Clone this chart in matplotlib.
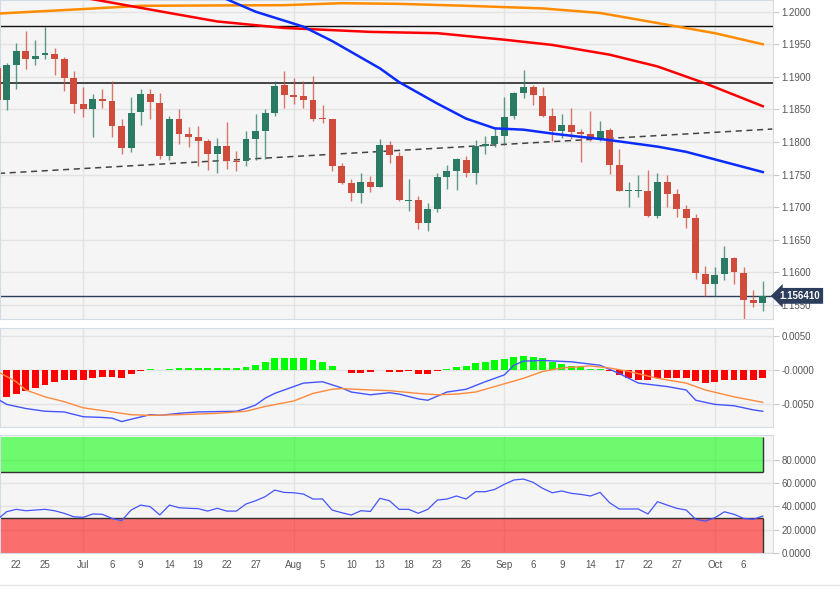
import matplotlib
matplotlib.use("Agg")
import matplotlib.pyplot as plt
import numpy as np

plt.rcParams["font.family"] = ["Liberation Sans", "DejaVu Sans"]

# daily EUR/USD candles, index -1 is the one cut off by the left edge
OPEN = [1.1914, 1.1865, 1.1918, 1.1940, 1.1927, 1.1933, 1.1935, 1.1927, 1.1898, 1.1858,
        1.1851, 1.1866, 1.1863, 1.1824, 1.1791, 1.1846, 1.1874, 1.1860, 1.1778, 1.1836,
        1.1813, 1.1807, 1.1802, 1.1781, 1.1794, 1.1771, 1.1771, 1.1804, 1.1817, 1.1845,
        1.1888, 1.1872, 1.1870, 1.1865, 1.1837, 1.1835, 1.1763, 1.1737, 1.1722, 1.1739,
        1.1731, 1.1796, 1.1779, 1.1710, 1.1711, 1.1676, 1.1698, 1.1746, 1.1756, 1.1773,
        1.1753, 1.1794, 1.1797, 1.1809, 1.1840, 1.1876, 1.1885, 1.1871, 1.1840, 1.1817,
        1.1826, 1.1816, 1.1812, 1.1804, 1.1819, 1.1765, 1.1725, 1.1725, 1.1725, 1.1687,
        1.1738, 1.1720, 1.1697, 1.1684, 1.1598, 1.1583, 1.1598, 1.1622, 1.1599, 1.1557,
        1.1553]
HIGH = [1.1925, 1.1922, 1.1952, 1.1971, 1.1957, 1.1976, 1.1944, 1.1931, 1.1909, 1.1885,
        1.1874, 1.1881, 1.1894, 1.1836, 1.1869, 1.1881, 1.1881, 1.1876, 1.1840, 1.1850,
        1.1823, 1.1824, 1.1804, 1.1806, 1.1831, 1.1787, 1.1817, 1.1843, 1.1850, 1.1894,
        1.1909, 1.1898, 1.1894, 1.1901, 1.1857, 1.1836, 1.1768, 1.1744, 1.1753, 1.1748,
        1.1805, 1.1801, 1.1785, 1.1743, 1.1717, 1.1706, 1.1752, 1.1765, 1.1775, 1.1779,
        1.1803, 1.1809, 1.1821, 1.1869, 1.1877, 1.1911, 1.1888, 1.1885, 1.1852, 1.1843,
        1.1852, 1.1820, 1.1847, 1.1833, 1.1821, 1.1789, 1.1738, 1.1749, 1.1757, 1.1752,
        1.1749, 1.1728, 1.1703, 1.1690, 1.1610, 1.1609, 1.1641, 1.1623, 1.1608, 1.1573,
        1.1587]
LOW = [1.1858, 1.1849, 1.1881, 1.1912, 1.1918, 1.1927, 1.1903, 1.1878, 1.1845, 1.1838,
       1.1807, 1.1852, 1.1807, 1.1782, 1.1784, 1.1826, 1.1836, 1.1774, 1.1773, 1.1797,
       1.1793, 1.1763, 1.1757, 1.1753, 1.1758, 1.1755, 1.1763, 1.1773, 1.1774, 1.1840,
       1.1852, 1.1858, 1.1853, 1.1833, 1.1829, 1.1756, 1.1736, 1.1710, 1.1707, 1.1724,
       1.1731, 1.1768, 1.1709, 1.1695, 1.1666, 1.1664, 1.1693, 1.1728, 1.1727, 1.1747,
       1.1736, 1.1781, 1.1792, 1.1796, 1.1836, 1.1867, 1.1857, 1.1839, 1.1801, 1.1806,
       1.1804, 1.1770, 1.1801, 1.1801, 1.1751, 1.1725, 1.1700, 1.1715, 1.1685, 1.1683,
       1.1701, 1.1685, 1.1668, 1.1590, 1.1564, 1.1564, 1.1588, 1.1582, 1.1528, 1.1547,
       1.1541]
CLOSE = [1.1865, 1.1918, 1.1940, 1.1927, 1.1932, 1.1936, 1.1927, 1.1898, 1.1858, 1.1851,
         1.1866, 1.1863, 1.1824, 1.1791, 1.1844, 1.1874, 1.1861, 1.1778, 1.1836, 1.1813,
         1.1807, 1.1802, 1.1781, 1.1794, 1.1771, 1.1769, 1.1804, 1.1817, 1.1844, 1.1886,
         1.1872, 1.1869, 1.1865, 1.1836, 1.1835, 1.1763, 1.1737, 1.1722, 1.1739, 1.1731,
         1.1796, 1.1780, 1.1711, 1.1711, 1.1676, 1.1697, 1.1746, 1.1755, 1.1774, 1.1753,
         1.1794, 1.1797, 1.1809, 1.1839, 1.1876, 1.1884, 1.1872, 1.1840, 1.1817, 1.1826,
         1.1815, 1.1812, 1.1804, 1.1817, 1.1765, 1.1725, 1.1726, 1.1726, 1.1687, 1.1738,
         1.1721, 1.1697, 1.1684, 1.1599, 1.1582, 1.1596, 1.1622, 1.1600, 1.1558, 1.1553,
         1.15641]

LAST_PRICE = 1.15641

# moving averages, read at candle indices
SMA50_IDX = [20, 23, 26, 31, 34, 39, 41, 45, 48, 51, 54, 57, 63, 68, 71, 79]
SMA50 = [1.2039, 1.2019, 1.2000, 1.1977, 1.1955, 1.1913, 1.1892, 1.1859, 1.1836, 1.1821,
         1.1819, 1.1813, 1.1803, 1.1793, 1.1785, 1.1754]
SMA100_IDX = [5, 9, 17, 22, 29, 38, 45, 52, 57, 63, 68, 73, 79]
SMA100 = [1.2030, 1.2019, 1.1998, 1.1985, 1.1975, 1.1969, 1.1967, 1.1957, 1.1949, 1.1934,
          1.1916, 1.1890, 1.1855]
SMA200_IDX = [-1, 8, 14, 29, 35, 41, 48, 56, 62, 69, 74, 79]
SMA200 = [1.1997, 1.2004, 1.2009, 1.2010, 1.2013, 1.2012, 1.2009, 1.2005, 1.1998, 1.1980,
          1.1967, 1.1950]

# horizontal levels and trend line
LEVELS = [1.1978, 1.1891]
TREND_IDX = [-1, 80]
TREND = [1.17518, 1.18200]

# MACD
MACD_HIST = [-0.0039, -0.0039, -0.0035, -0.0030, -0.0026, -0.0022, -0.0018, -0.0015, -0.0015, -0.0015,
             -0.0012, -0.0010, -0.0010, -0.0011, -0.0006, -0.0001, 0.0002, -0.00005, 0.0002, 0.0003,
             0.0003, 0.0003, 0.0003, 0.0003, 0.0003, 0.0003, 0.0005, 0.0008, 0.0012, 0.0018,
             0.0018, 0.0018, 0.0017, 0.0014, 0.0012, 0.0006, 0.00005, -0.0004, -0.0005, -0.0003,
             0.00005, -0.0003, -0.0003, -0.0002, -0.0006, -0.0006, -0.0001, 0.0001, 0.0005, 0.0006,
             0.0010, 0.0012, 0.0014, 0.0016, 0.0019, 0.0021, 0.0019, 0.0017, 0.0012, 0.0009,
             0.0006, 0.0004, 0.00015, 0.0001, -0.0002, -0.0007, -0.0011, -0.0014, -0.0015, -0.0012,
             -0.0011, -0.0011, -0.0011, -0.0016, -0.0019, -0.0018, -0.0015, -0.0014, -0.0014, -0.0014,
             -0.0012]
MACD_IDX = [-1, 0, 2, 4, 6, 8, 10, 11, 12, 15, 16, 18, 20, 24, 25, 26, 27, 28, 30, 31, 33, 35,
            36, 38, 40, 41, 43, 44, 46, 48, 50, 52, 53, 54, 56, 59, 62, 64, 66, 69, 71, 72, 74,
            76, 78, 79]
MACD = [-0.0042, -0.0050, -0.0056, -0.0060, -0.0061, -0.0068, -0.0069, -0.0070, -0.0075,
        -0.0065, -0.0066, -0.0063, -0.0061, -0.0060, -0.0056, -0.0051, -0.0041, -0.0034,
        -0.0024, -0.0019, -0.0017, -0.0026, -0.0032, -0.0036, -0.0033, -0.0035, -0.0042,
        -0.0044, -0.0032, -0.0028, -0.0017, -0.0007, 0.0007, 0.0013, 0.0014, 0.0012, 0.0007,
        -0.0005, -0.0019, -0.0024, -0.0029, -0.0044, -0.0050, -0.0052, -0.0058, -0.0060]
SIGNAL_IDX = [-1, 1, 2, 4, 6, 8, 11, 13, 15, 18, 22, 25, 27, 30, 32, 34, 35, 38, 40, 43, 45,
              47, 49, 51, 54, 56, 58, 61, 63, 65, 68, 71, 73, 76, 79]
SIGNAL = [-0.0002, -0.0017, -0.0029, -0.0039, -0.0046, -0.0055, -0.0061, -0.0065, -0.0066,
          -0.0065, -0.0063, -0.0060, -0.0053, -0.0045, -0.0034, -0.0028, -0.0027, -0.0029,
          -0.0030, -0.0034, -0.0036, -0.0035, -0.0032, -0.0024, -0.0012, -0.0002, 0.0003,
          0.0006, 0.0003, -0.0002, -0.0012, -0.0019, -0.0029, -0.0039, -0.0047]

# RSI
RSI = [28.5, 35.4, 37.4, 36.2, 36.8, 37.4, 36.2, 34.0, 31.0, 30.5,
       33.4, 33.1, 29.6, 27.6, 36.8, 41.1, 39.7, 32.5, 41.1, 38.8,
       38.3, 38.0, 35.9, 38.3, 35.9, 35.9, 42.0, 44.8, 48.3, 54.0,
       52.0, 51.7, 50.6, 46.3, 46.3, 36.8, 34.5, 32.5, 36.2, 35.6,
       46.9, 44.8, 37.4, 37.4, 34.0, 37.4, 45.4, 46.3, 48.9, 46.3,
       52.6, 52.6, 54.6, 59.0, 62.7, 63.5, 60.7, 55.5, 51.7, 53.2,
       51.2, 50.3, 48.9, 52.0, 43.1, 37.7, 37.7, 37.7, 33.4, 44.0,
       41.1, 38.3, 36.8, 28.8, 27.3, 30.2, 35.3, 33.1, 29.6, 28.8,
       31.6]

# axis labels
TICK_IDX = [1, 4, 8, 11, 14, 17, 20, 23, 26, 30, 33, 36, 39, 42, 45, 48, 52, 55, 58, 61,
            64, 67, 70, 74, 77]
TICK_LABELS = ["22", "25", "Jul", "6", "9", "14", "19", "22", "27", "Aug", "5", "10", "13",
               "18", "23", "26", "Sep", "6", "9", "14", "17", "22", "27", "Oct", "6"]
MONTH_IDX = [8, 30, 52, 74]
PRICE_TICKS = [1.1550, 1.1600, 1.1650, 1.1700, 1.1750, 1.1800, 1.1850, 1.1900, 1.1950, 1.2000]
MACD_TICKS = [0.005, 0.0, -0.005]
MACD_TICK_LABELS = ["0.0050", "-0.0000", "-0.0050"]
RSI_TICKS = [0, 20, 40, 60, 80]

GREEN = "#2b7a64"
RED = "#cf4b3b"
BG = "#f5f5f5"
GRID = "#e3e3e3"
FRAME = "#d3dbe4"
TEXT = "#555555"

fig = plt.figure(figsize=(8.4, 5.92), dpi=100)
ax = fig.add_axes([0, 1 - 319 / 592, 773 / 840, 319 / 592])
ax_macd = fig.add_axes([0, 1 - 426.7 / 592, 773 / 840, 99 / 592], sharex=ax)
ax_rsi = fig.add_axes([0, 1 - 553.3 / 592, 773 / 840, 118.3 / 592], sharex=ax)

for a in (ax, ax_macd, ax_rsi):
    a.set_facecolor(BG)
    a.set_axisbelow(True)
    a.yaxis.tick_right()
    a.tick_params(axis="y", length=4, width=0.8, color="#c9c9c9", labelsize=7,
                  labelcolor=TEXT, pad=2)
    a.tick_params(axis="x", length=0, labelsize=7, labelcolor=TEXT, pad=5)
    a.grid(axis="y", color=GRID, lw=1)
    for m in MONTH_IDX:
        a.axvline(m, color=GRID, lw=1, zorder=0)
    for s in a.spines.values():
        s.set_color(FRAME)

x = np.arange(len(CLOSE)) - 1
o, h, l, c = map(np.array, (OPEN, HIGH, LOW, CLOSE))
up = c >= o
col = np.where(up, GREEN, RED)

# price panel
for lv, lc, lw in zip(LEVELS, ["#111111", "#444444"], [1.0, 1.4]):
    ax.axhline(lv, color=lc, lw=lw, zorder=2)
ax.axhline(LAST_PRICE, color="#2c3e5c", lw=1, zorder=2)
ax.plot(TREND_IDX, TREND, color="#444444", lw=1.1, ls=(0, (4, 3)), zorder=2)
ax.vlines(x, l, h, colors=col, lw=1, alpha=0.75, zorder=3)
ax.bar(x, np.maximum(np.abs(c - o), 0.00004), bottom=np.minimum(o, c), width=0.72,
       color=col, lw=0, zorder=4)
ax.plot(SMA200_IDX, SMA200, color="#ff8c00", lw=1.8, zorder=5)
ax.plot(SMA100_IDX, SMA100, color="#ff0000", lw=1.8, zorder=5)
ax.plot(SMA50_IDX, SMA50, color="#0a2cff", lw=1.8, zorder=5)
ax.set_ylim(1.15286, 1.20179)
ax.set_yticks(PRICE_TICKS)
ax.set_yticklabels([f"{t:.4f}" for t in PRICE_TICKS])
ax.text(1.0085, LAST_PRICE, f"{LAST_PRICE:.6f}", transform=ax.get_yaxis_transform(),
        ha="left", va="center", color="white", fontsize=7, fontweight="bold",
        bbox=dict(boxstyle="larrow,pad=0.3", fc="#2c3e5c", ec="none"), clip_on=False, zorder=6)

# MACD panel
ax_macd.bar(x, MACD_HIST, width=0.72, color=np.where(np.array(MACD_HIST) >= 0, "#00ff00", "#ff0000"),
            lw=0, zorder=2)
ax_macd.plot(MACD_IDX, MACD, color="#4455ff", lw=1, zorder=3)
ax_macd.plot(SIGNAL_IDX, SIGNAL, color="#ff8a3d", lw=1, zorder=3)
ax_macd.set_ylim(-0.00825, 0.00617)
ax_macd.set_yticks(MACD_TICKS)
ax_macd.set_yticklabels(MACD_TICK_LABELS)

# RSI panel
ax_rsi.fill_between([-2, 79], 70, 100, color="#00ff00", alpha=0.55, lw=0, zorder=1)
ax_rsi.fill_between([-2, 79], 0, 30, color="#ff0000", alpha=0.55, lw=0, zorder=1)
ax_rsi.hlines([70, 30], -2, 79, color="#333333", lw=1, zorder=2)
ax_rsi.vlines([79, 79], [0, 70], [30, 100], color="#333333", lw=1, zorder=2)
ax_rsi.plot(x, RSI, color="#4455ff", lw=0.9, zorder=3)
ax_rsi.set_ylim(-0.5, 101.5)
ax_rsi.set_yticks(RSI_TICKS)
ax_rsi.set_yticklabels([f"{t:.4f}" for t in RSI_TICKS])

ax.set_xlim(-0.7, 80.07)
ax_rsi.set_xticks(TICK_IDX)
ax_rsi.set_xticklabels(TICK_LABELS)
ax.tick_params(axis="x", labelbottom=False)
ax_macd.tick_params(axis="x", labelbottom=False)

fig.add_artist(plt.Line2D([0, 1], [1 - 585 / 592] * 2, color="#e6e6e6", lw=1))

fig.savefig("out.png", dpi=100, facecolor="white")
